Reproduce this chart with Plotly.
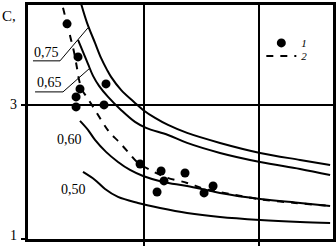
import plotly.graph_objects as go

# Theoretical curves (solid)
c075_x = [0.450, 0.511, 0.580, 0.632, 0.684, 0.719, 0.805, 0.926, 0.996, 1.100, 1.212, 1.377, 1.662, 2.009, 2.355, 2.615]
c075_y = [4.567, 4.224, 3.925, 3.701, 3.522, 3.418, 3.224, 3.030, 2.925, 2.806, 2.701, 2.582, 2.433, 2.284, 2.179, 2.104]

c065_x = [0.433, 0.476, 0.519, 0.563, 0.615, 0.693, 0.805, 0.926, 1.022, 1.212, 1.377, 1.662, 2.009, 2.355, 2.615]
c065_y = [3.970, 3.791, 3.612, 3.433, 3.284, 3.119, 2.925, 2.746, 2.657, 2.552, 2.433, 2.284, 2.149, 2.045, 1.955]

c060_x = [0.450, 0.519, 0.580, 0.675, 0.779, 0.883, 0.996, 1.169, 1.377, 1.662, 2.009, 2.355, 2.615]
c060_y = [2.761, 2.627, 2.478, 2.299, 2.149, 2.030, 1.940, 1.851, 1.791, 1.687, 1.597, 1.537, 1.493]

c050_x = [0.476, 0.580, 0.667, 0.779, 0.952, 1.143, 1.377, 1.662, 2.009, 2.355, 2.615]
c050_y = [2.000, 1.881, 1.746, 1.627, 1.537, 1.463, 1.388, 1.328, 1.284, 1.254, 1.239]

# Series 2 (dashed)
s2_x = [0.303, 0.329, 0.364, 0.398, 0.424, 0.442, 0.468, 0.519, 0.580, 0.649, 0.710, 0.779, 0.866, 0.944,
        1.056, 1.186, 1.377, 1.532, 1.749, 1.991, 2.312, 2.615]
s2_y = [4.448, 4.269, 4.030, 3.791, 3.552, 3.373, 3.224, 3.090, 2.925, 2.731, 2.582, 2.463, 2.299, 2.149,
        2.030, 1.925, 1.836, 1.746, 1.672, 1.597, 1.537, 1.493]

# Series 1 (points)
s1_x = [0.338, 0.433, 0.675, 0.450, 0.416, 0.416, 0.658, 0.970, 1.152, 1.177, 1.359, 1.117, 1.602, 1.524]
s1_y = [4.209, 3.716, 3.313, 3.239, 3.119, 2.970, 3.000, 2.119, 2.015, 1.866, 1.985, 1.701, 1.791, 1.687]

y_ticks = [1, 3]
y_tick_labels = ["1", "3"]
x_grid = [1, 2]

curve_labels = ["0,75", "0,65", "0,60", "0,50"]
label_x = [0.160, 0.182, 0.355, 0.398]
label_y = [3.776, 3.336, 2.478, 1.731]

FONT = "Liberation Serif"

fig = go.Figure()
for cx, cy in [(c075_x, c075_y), (c065_x, c065_y), (c060_x, c060_y), (c050_x, c050_y)]:
    fig.add_trace(go.Scatter(x=cx, y=cy, mode="lines", line=dict(color="black", width=2, shape="spline"),
                             showlegend=False, hoverinfo="skip"))

fig.add_trace(go.Scatter(x=s1_x, y=s1_y, mode="markers", name="<i>1</i>",
                         marker=dict(color="black", size=9), legend="legend"))
fig.add_trace(go.Scatter(x=s2_x, y=s2_y, mode="lines", name="<i>2</i>",
                         line=dict(color="black", width=2, dash="7px,7px", shape="spline"),
                         legend="legend2"))

# label leader lines
shapes = []
lead = [
    ([0.043, 0.277, 0.519], [3.657, 3.657, 4.149]),
    ([0.061, 0.303, 0.528], [3.194, 3.194, 3.537]),
]
for lx, ly in lead:
    for i in range(len(lx) - 1):
        shapes.append(dict(type="line", xref="x", yref="y", x0=lx[i], y0=ly[i], x1=lx[i + 1], y1=ly[i + 1],
                           line=dict(color="black", width=1)))

annotations = []
for t, ax_, ay_ in zip(curve_labels, label_x, label_y):
    annotations.append(dict(x=ax_, y=ay_, xref="x", yref="y", text=t, showarrow=False,
                            font=dict(family=FONT, size=14, color="black")))
# y tick labels as text
for v, t, dy in zip(y_ticks, y_tick_labels, [4, 0]):
    annotations.append(dict(x=0, y=v, xref="paper", yref="y", text=t, showarrow=False,
                            xanchor="right", xshift=-9, yshift=dy,
                            font=dict(family=FONT, size=14, color="black")))
annotations.append(dict(x=0, y=1, xref="paper", yref="paper", text="C,", showarrow=False,
                        xanchor="right", yanchor="top", xshift=-10, yshift=-1,
                        font=dict(family=FONT, size=15, color="black")))

leg_common = dict(xanchor="left", yanchor="middle", bgcolor="rgba(0,0,0,0)",
                  font=dict(family=FONT, size=11, color="black"), itemwidth=30)
fig.update_layout(
    width=336, height=246,
    margin=dict(l=28, r=3, t=5, b=7, autoexpand=False),
    plot_bgcolor="white", paper_bgcolor="white",
    shapes=shapes, annotations=annotations,
    legend=dict(x=0.765, y=0.838, **leg_common),
    legend2=dict(x=0.765, y=0.782, **leg_common),
    font=dict(family=FONT, color="black"),
)
fig.update_xaxes(range=[0, 2.64], tickvals=x_grid, showticklabels=False, ticks="outside", ticklen=5,
                 tickwidth=2, tickcolor="black", showgrid=True, gridcolor="black", gridwidth=2,
                 showline=True, linecolor="black", linewidth=3, mirror=True, zeroline=False,
                 automargin=False)
fig.update_yaxes(range=[1, 4.49], tickvals=y_ticks, showticklabels=False, ticks="outside", ticklen=4,
                 tickwidth=2, tickcolor="black", showgrid=True, gridcolor="black", gridwidth=2,
                 showline=True, linecolor="black", linewidth=3, mirror=True, zeroline=False,
                 automargin=False)

fig.write_html("out.html", config={"displayModeBar": False},
               post_script="document.body.style.margin='0';")
